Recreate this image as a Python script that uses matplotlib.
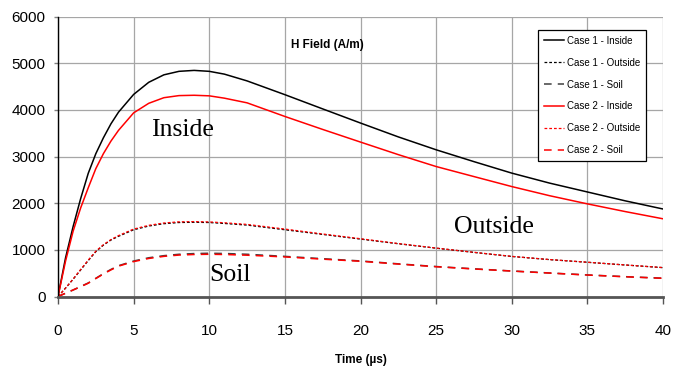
import matplotlib
matplotlib.use("Agg")
import matplotlib.pyplot as plt

SANS = ['Liberation Sans Narrow', 'Liberation Sans', 'DejaVu Sans']
SERIF = ['Liberation Serif', 'DejaVu Serif']

t = [0, 0.5, 1, 1.5, 2, 2.5, 3, 3.5, 4, 5, 6, 7, 8, 9, 10, 11, 12.5, 15, 17.5,
     20, 22.5, 25, 27.5, 30, 32.5, 35, 37.5, 40]
case1_inside = [0, 830, 1500, 2100, 2640, 3060, 3400, 3700, 3950, 4330, 4590, 4750, 4825, 4845,
                4825, 4765, 4620, 4325, 4020, 3717, 3420, 3144, 2890, 2644, 2430, 2240, 2050, 1875]
case2_inside = [0, 760, 1400, 1900, 2330, 2740, 3060, 3330, 3560, 3935, 4140, 4260, 4305, 4312,
                4300, 4250, 4150, 3858, 3580, 3309, 3040, 2785, 2570, 2356, 2160, 1985, 1820, 1665]
case1_outside = [0, 180, 370, 570, 770, 960, 1100, 1210, 1290, 1430, 1510, 1560, 1585, 1590,
                 1585, 1565, 1530, 1430, 1330, 1230, 1130, 1035, 945, 858, 790, 733, 675, 618]
case2_outside = [0, 180, 375, 580, 780, 970, 1110, 1220, 1305, 1445, 1525, 1575, 1600, 1605,
                 1598, 1580, 1545, 1445, 1340, 1238, 1135, 1038, 947, 860, 792, 735, 676, 620]
case1_soil = [0, 70, 140, 215, 290, 390, 490, 580, 660, 760, 830, 875, 905, 920,
              927, 922, 905, 860, 810, 762, 700, 642, 593, 547, 504, 462, 425, 392]
case2_soil = [0, 70, 140, 210, 285, 385, 482, 570, 650, 748, 815, 860, 888, 900,
              905, 900, 885, 848, 800, 755, 695, 638, 590, 545, 502, 460, 423, 390]

x_ticks = [0, 5, 10, 15, 20, 25, 30, 35, 40]
y_ticks = [0, 1000, 2000, 3000, 4000, 5000, 6000]

fig = plt.figure(figsize=(6.88, 3.71), dpi=100)
ax = fig.add_axes([58/688, 1-296.5/371, (663-58)/688, (296.5-16.5)/371])

ax.plot(t, case1_inside, color='black', lw=1.1, label='Case 1 - Inside')
ax.plot(t, case1_outside, color='black', lw=0.9, dashes=(2.2, 1.6), label='Case 1 - Outside')
ax.plot(t, case1_soil, color='#404040', lw=1.1, dashes=(5, 4), label='Case 1 - Soil')
ax.plot(t, case2_inside, color='red', lw=1.1, label='Case 2 - Inside')
ax.plot(t, case2_outside, color='red', lw=0.9, dashes=(2.2, 1.6), label='Case 2 - Outside')
ax.plot(t, case2_soil, color='red', lw=1.1, dashes=(5, 4), label='Case 2 - Soil')

ax.set_xlim(0, 40)
ax.set_ylim(0, 6000)
ax.set_xticks(x_ticks)
ax.set_yticks(y_ticks)
ax.grid(True, color='#a6a6a6', lw=0.9)
ax.set_axisbelow(True)
for s in ['top', 'right']:
    ax.spines[s].set_visible(False)
ax.spines['left'].set_color('black')
ax.spines['left'].set_linewidth(1.0)
ax.spines['bottom'].set_color('#555555')
ax.spines['bottom'].set_linewidth(2.0)
ax.tick_params(axis='x', length=5, width=1, color='#555555', pad=15)
ax.tick_params(axis='y', length=3, width=1, color='#808080', pad=6)
for lab in ax.get_xticklabels() + ax.get_yticklabels():
    lab.set_family(SANS)
    lab.set_fontsize(11)

ax.text(17.8, 5397, 'H Field (A/m)', ha='center', va='center',
        family=SANS, fontweight='bold', fontsize=8.5)
fig.text(361/688, 1 - 360/371, 'Time (µs)', ha='center', va='center',
         family=SANS, fontweight='bold', fontsize=8.5)

ax.text(8.2, 3573, 'Inside', family=SERIF, fontsize=18.5, ha='center', va='center')
ax.text(28.8, 1490, 'Outside', family=SERIF, fontsize=18.5, ha='center', va='center')
ax.text(11.4, 461, 'Soil', family=SERIF, fontsize=18.5, ha='center', va='center')

leg = ax.legend(loc='upper left', bbox_to_anchor=((538-58)/605, 1 - (30-16.5)/280),
                prop={'family': SANS, 'size': 7}, frameon=True, fancybox=False,
                edgecolor='black', framealpha=1, handlelength=2.1, labelspacing=1.22,
                borderpad=0.6, handletextpad=0.3, borderaxespad=0)
leg.get_frame().set_linewidth(0.9)

fig.savefig('out.png', dpi=100)
